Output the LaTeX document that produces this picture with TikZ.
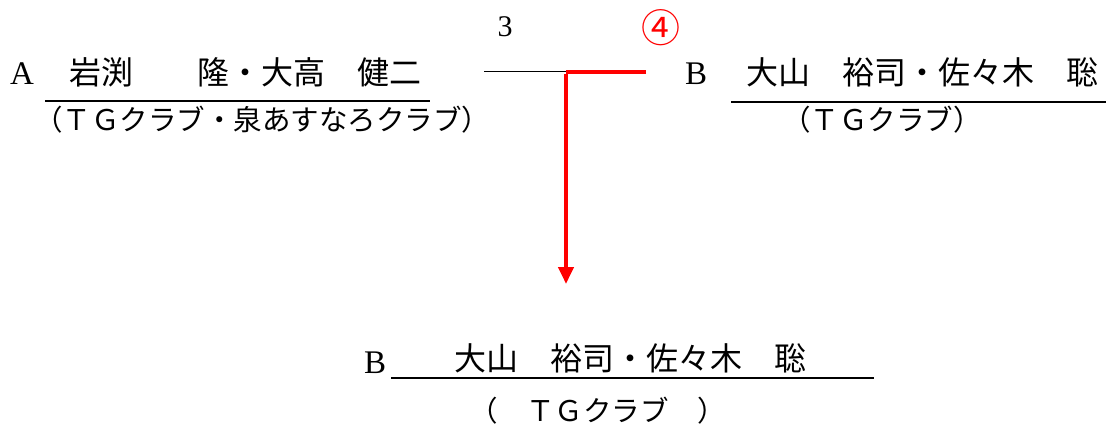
\documentclass[tikz,border=0pt]{standalone}
\usepackage{fontspec}
\setmainfont{Liberation Serif}
\newfontfamily\jp{Noto Sans CJK JP}
\usetikzlibrary{arrows.meta}
\tikzset{
  players/.style={anchor=base west, inner sep=0pt, font=\jp\fontsize{32}{32}\selectfont},
  club/.style={anchor=base west, inner sep=0pt, font=\jp\fontsize{28.5}{28.5}\selectfont},
  letter/.style={anchor=base west, inner sep=0pt, font=\fontsize{33}{33}\selectfont},
  score/.style={anchor=base, inner sep=0pt, font=\fontsize{30}{30}\selectfont},
  uline/.style={line width=1.3pt, black},
  wline/.style={line width=4pt, red},
}
\begin{document}
\begin{tikzpicture}[x=1pt,y=-1pt]
\useasboundingbox (0,0) rectangle (1106,425);
% team A
\node[letter] (la) at (10,85) {A};
\node[players] (na) at (69,85) {岩渕　　隆・大高　健二};
\coordinate (ua1) at (45,101);
\coordinate (ua2) at (430,101);
\draw[uline] (ua1) -- (ua2);
\node[club] (ca) at (34,131) {（ＴＧクラブ・泉あすなろクラブ）};
% team B
\node[letter] (lb) at (685,85) {B};
\node[players] (nb) at (746,85) {大山　裕司・佐々木　聡};
\coordinate (ub1) at (731,102);
\coordinate (ub2) at (1106,102);
\draw[uline] (ub1) -- (ub2);
\node[club] (cb) at (782,131) {（ＴＧクラブ）};
% scores
\node[score] (sa) at (505,37) {3};
\node[anchor=center, inner sep=0pt, text=red, font=\jp\fontsize{39}{39}\selectfont] (sb) at (661,28) {④};
% bracket
\coordinate (ja) at (484,72);
\coordinate (jm) at (566,72);
\coordinate (jb) at (646,72);
\coordinate (tip) at (566,284);
\draw[line width=1pt] (ja) -- (jm);
\draw[wline] (jb) -- (jm);
\draw[line width=4pt, red, -{Triangle[length=17pt,width=15pt]}] ([yshift=-2pt]jm) -- (tip);
% winner
\node[letter] (lw) at (364,373) {B};
\node[players] (nw) at (454,370) {大山　裕司・佐々木　聡};
\coordinate (uw1) at (391,378);
\coordinate (uw2) at (874,378);
\draw[uline] (uw1) -- (uw2);
\node[club] (cw) at (469,421) {（　ＴＧクラブ　）};
\end{tikzpicture}
\end{document}
